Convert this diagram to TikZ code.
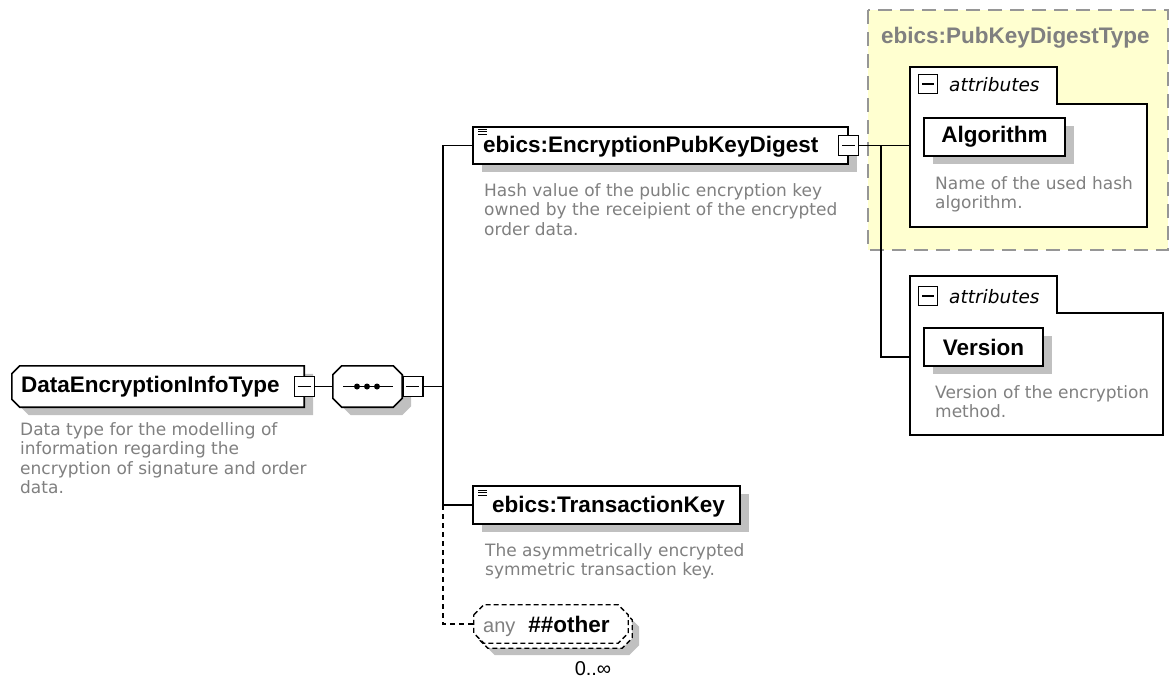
\documentclass[tikz,border=0pt]{standalone}
\usepackage{fontspec}
\setmainfont{Liberation Sans}
\newfontfamily\descfont{DejaVu Sans}
\usetikzlibrary{shadows,calc}
\definecolor{shadowgray}{RGB}{192,192,192}
\definecolor{descgray}{RGB}{128,128,128}
\definecolor{groupyellow}{RGB}{255,255,208}
\definecolor{groupedge}{RGB}{150,150,150}

% outline with cut corners, #1 = node, #2 = cut
\newcommand{\chamferoct}[2]{([yshift=-#2]#1.north west) -- ([xshift=#2]#1.north west)
  -- ([xshift=-#2]#1.north east) -- ([yshift=-#2]#1.north east)
  -- ([yshift=#2]#1.south east) -- ([xshift=-#2]#1.south east)
  -- ([xshift=#2]#1.south west) -- ([yshift=#2]#1.south west) -- cycle}
\newcommand{\chamferleft}[2]{([yshift=-#2]#1.north west) -- ([xshift=#2]#1.north west)
  -- (#1.north east) -- (#1.south east)
  -- ([xshift=#2]#1.south west) -- ([yshift=#2]#1.south west) -- cycle}

\tikzset{
  wire/.style={line width=1.4pt},
  dropgray/.style={drop shadow={shadow xshift=9pt,shadow yshift=-8pt,fill=shadowgray,opacity=1}},
  elbox/.style={draw,fill=white,line width=1.6pt,inner sep=0pt,minimum height=37pt,dropgray},
  slot/.style={inner sep=0pt,draw=none},
  minusbox/.style={draw,fill=white,line width=1.3pt,minimum size=20pt,inner sep=0pt,
    path picture={\draw[line width=1.5pt]
      ([xshift=3.5pt]path picture bounding box.west) -- ([xshift=-3.5pt]path picture bounding box.east);}},
  lbl/.style={font=\fontsize{22.5}{26}\selectfont\bfseries,inner sep=0pt},
  desc/.style={font=\descfont\fontsize{17}{19.5}\selectfont,text=descgray,align=left,
    anchor=north west,inner sep=0pt},
  attlbl/.style={font=\descfont\fontsize{18.5}{22}\selectfont\itshape,anchor=west,inner sep=0pt},
  anydash/.style={line width=1.3pt,dash pattern=on 5pt off 3pt},
}

\begin{document}
\begin{tikzpicture}[x=1pt,y=-1pt]

    \useasboundingbox (0,0) rectangle (1170,680);
    \fill[white] (0,0) rectangle (1170,680);

    % complexType ebics:PubKeyDigestType

    \draw[groupedge,fill=groupyellow,line width=1.4pt,dash pattern=on 14pt off 8pt]
      (868,10) rectangle (1168,250);
    \node[lbl,text=descgray,anchor=west] (pkdtitle) at (881,38) {ebics:PubKeyDigestType};

    % attribute panels

    \draw[fill=white,line width=1.4pt] (910,67) -- (1057,67) -- (1057,104) -- (1147,104)
      -- (1147,227) -- (910,227) -- cycle;
    \draw[fill=white,line width=1.4pt] (910,276) -- (1057,276) -- (1057,313) -- (1163,313)
      -- (1163,435) -- (910,435) -- cycle;
    \node[minusbox,minimum size=19pt] (att1m) at (928,84) {};
    \node[attlbl] (att1lbl) at (949,85) {attributes};
    \node[minusbox,minimum size=19pt] (att2m) at (928,296) {};
    \node[attlbl] (att2lbl) at (949,297) {attributes};
    \coordinate (algatt) at (910,145.5);
    \coordinate (veratt) at (910,357);

    \node[elbox,minimum width=141pt,minimum height=38pt] (alg) at (994.5,137) {};
    \node[lbl] (alglbl) at (alg) {Algorithm};
    \node[desc] (algdesc) at (935,176) {Name of the used hash\\algorithm.};

    \node[elbox,minimum width=119pt,minimum height=38pt] (ver) at (983.5,347) {};
    \node[lbl] (verlbl) at (ver) {Version};
    \node[desc] (verdesc) at (935,385) {Version of the encryption\\method.};

    % root type and sequence

    \node[slot,minimum width=292pt,minimum height=41pt] (root) at (158,386.5) {};
    \fill[shadowgray,transform canvas={shift={(9,8)}}] \chamferleft{root}{8pt};
    \filldraw[fill=white,line width=1.6pt] \chamferleft{root}{8pt};
    \node[lbl,anchor=west] (rootlbl) at (21,386.5) {DataEncryptionInfoType};
    \node[minusbox] (rootm) at (root.east) {};
    \node[desc] (rootdesc) at (20,422) {Data type for the modelling of\\information regarding the\\encryption of signature and order\\data.};

    \node[slot,minimum width=69pt,minimum height=41pt] (seq) at (367.5,386.5) {};
    \fill[shadowgray,transform canvas={shift={(9,8)}}] \chamferoct{seq}{9pt};
    \filldraw[fill=white,line width=1.6pt] \chamferoct{seq}{9pt};
    \draw[line width=1.4pt] (343,386.5) -- (393,386.5);
    \foreach \dx in {357,367,377}{
      \fill (\dx,386.5) circle (3pt);
    }
    \node[minusbox,anchor=west] (seqm) at (seq.east) {};
    \draw[wire] (rootm.east) -- (seq.west);

    % child elements

    \node[elbox,minimum width=375pt] (epkd) at (660.5,145.5) {};
    \node[lbl,anchor=west] (epkdlbl) at (483,147) {ebics:EncryptionPubKeyDigest};
    \foreach \dy in {129,131.5,134}{
      \draw[line width=0.9pt] (478,\dy) -- (487,\dy);
    }
    \node[minusbox] (epkdm) at (epkd.east) {};
    \node[desc] (epkddesc) at (484,183) {Hash value of the public encryption key\\owned by the receipient of the encrypted\\order data.};

    \node[elbox,minimum width=267pt,minimum height=38pt] (trkey) at (606.5,505) {};
    \node[lbl] (trkeylbl) at (608.5,506.5) {ebics:TransactionKey};
    \foreach \dy in {490,492.5,495}{
      \draw[line width=0.9pt] (478,\dy) -- (487,\dy);
    }
    \node[desc] (trkeydesc) at (485,543) {The asymmetrically encrypted\\symmetric transaction key.};

    % wildcard, repeated

    \node[slot,minimum width=154pt,minimum height=38pt] (anyback) at (555,629) {};
    \node[slot,minimum width=154pt,minimum height=38pt] (any) at (551,624) {};
    \fill[shadowgray,transform canvas={shift={(7,7)}}] \chamferoct{anyback}{10pt};
    \filldraw[fill=white,anydash] \chamferoct{anyback}{10pt};
    \filldraw[fill=white,anydash] \chamferoct{any}{10pt};
    \node[anchor=west,inner sep=0pt] (anylbl) at (483,626)
      {\fontsize{20}{24}\selectfont\textcolor{descgray}{any}\hspace{13pt}\fontsize{22.5}{26}\selectfont\bfseries\#\#other};
    \node[font=\fontsize{20}{24}\selectfont,inner sep=0pt] (anyocc) at (593,669) {0..∞};

    % connectors

    \coordinate (bus) at (443,386.5);
    \draw[wire] (seqm.east) -- (bus);
    \draw[wire] (epkd.west) -| (bus) |- (trkey.west);
    \draw[wire,dash pattern=on 5pt off 4pt] (trkey.west -| bus) |- (any.west);

    \coordinate (split) at (881,145.5);
    \draw[wire] (epkdm.east) -- (algatt);
    \draw[wire] (split) |- (veratt);

  \end{tikzpicture}
\end{document}
